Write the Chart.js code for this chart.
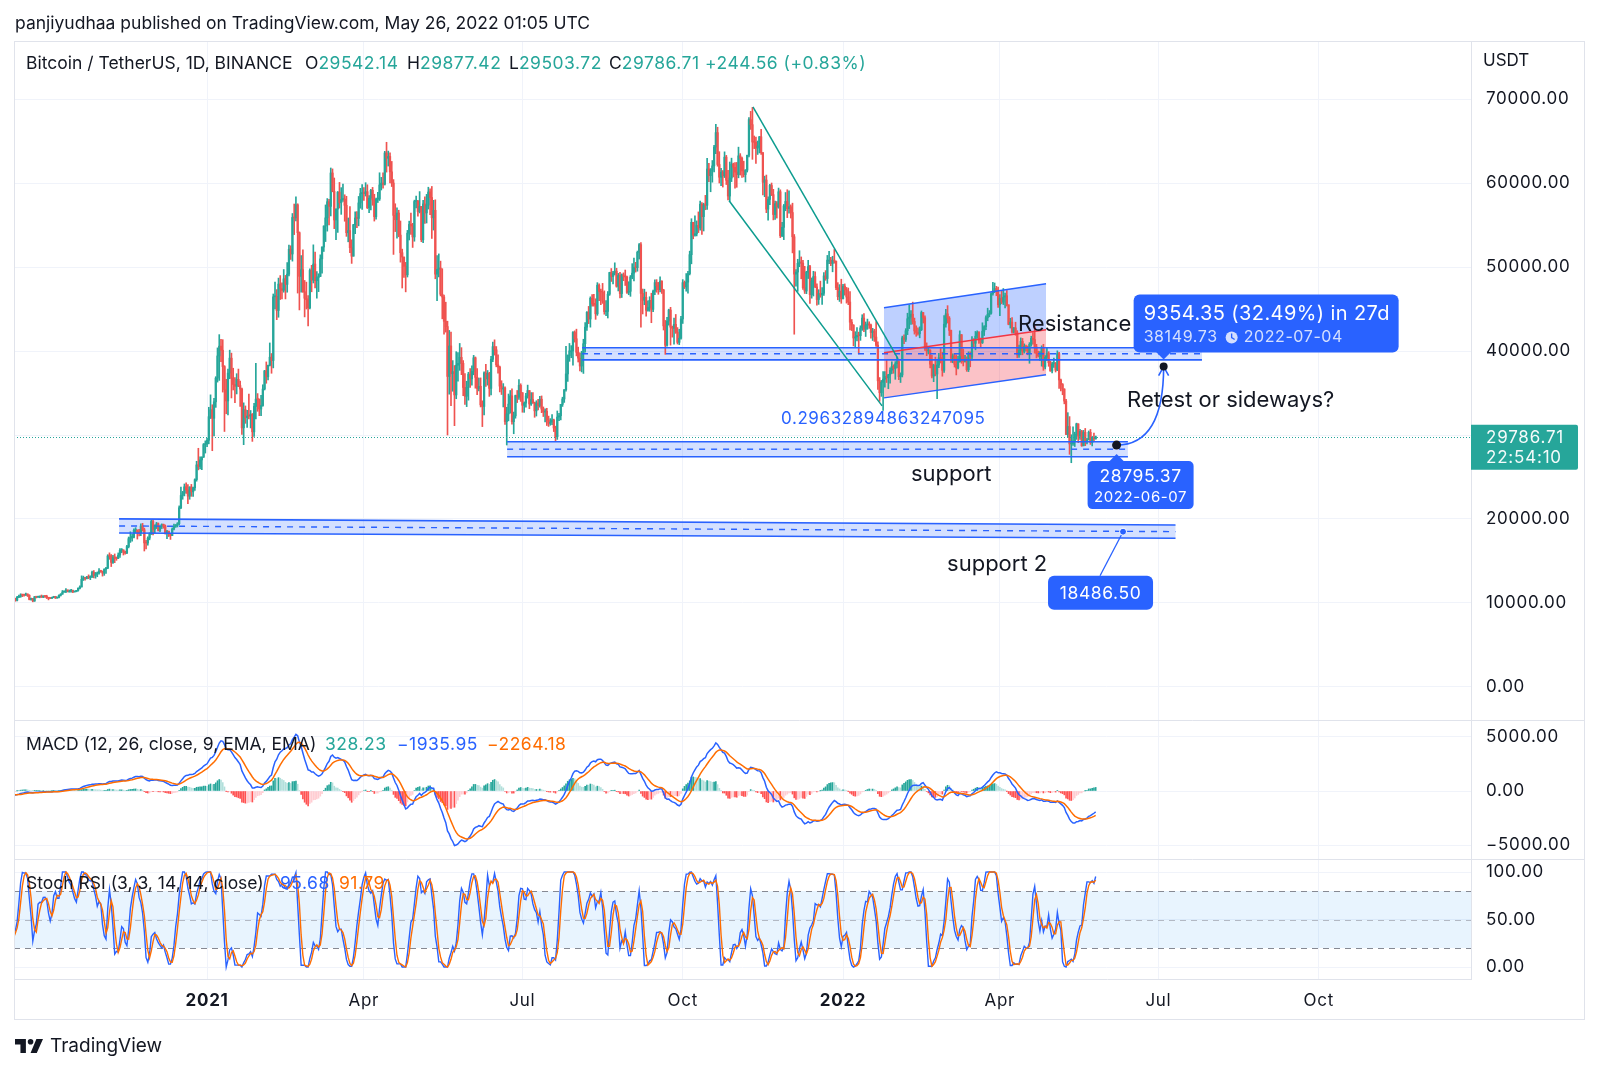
<!DOCTYPE html>
<html lang="en">
<head>
<meta charset="utf-8">
<title>BTCUSDT 1D</title>
<script src="https://cdn.jsdelivr.net/npm/chart.js@4.4.1/dist/chart.umd.min.js"></script>
<style>
  html, body { margin: 0; background: #fff; }
  body { position: relative; width: 1600px; height: 1071px; overflow: hidden;
         font-family: Inter, "Noto Sans", sans-serif; color: #131722; }
  canvas { position: absolute; left: 0; top: 0; }
  .t { position: absolute; white-space: nowrap; line-height: 20px; font-size: 17.5px; }
  .n { letter-spacing: 0.5px; }
  .up { color: #26a69a; }
  .blue { color: #2962ff; }
  .orange { color: #ff6d00; }
</style>
</head>
<body>
<canvas id="graficaBtc" width="1600" height="1071"></canvas>

<div class="t" style="left:15px;top:13px">panjiyudhaa published on TradingView.com, May 26, 2022 01:05 UTC</div>
<div class="t" style="left:26px;top:53px">Bitcoin / TetherUS, 1D, BINANCE</div>
<div class="t" style="left:305px;top:53px">O<span class="up n">29542.14</span></div>
<div class="t" style="left:407px;top:53px">H<span class="up n">29877.42</span></div>
<div class="t" style="left:509px;top:53px">L<span class="up n">29503.72</span></div>
<div class="t" style="left:609px;top:53px">C<span class="up n">29786.71</span></div>
<div class="t up n" style="left:705px;top:53px">+244.56 (+0.83%)</div>
<div class="t" style="left:1483px;top:50px;font-size:17px">USDT</div>

<div class="t" style="left:26px;top:734px">MACD (12, 26, close, 9, EMA, EMA)</div>
<div class="t up n" style="left:325px;top:734px">328.23</div>
<div class="t blue n" style="left:397px;top:734px">&minus;1935.95</div>
<div class="t orange n" style="left:487px;top:734px">&minus;2264.18</div>

<div class="t" style="left:26px;top:873px">Stoch RSI (3, 3, 14, 14, close)</div>
<div class="t blue n" style="left:280px;top:873px">95.68</div>
<div class="t orange n" style="left:339px;top:873px">91.79</div>

<svg style="position:absolute;left:15px;top:1039px" width="28" height="14" viewBox="0 0 36 18">
  <path d="M14 18H7V7H0V0h14v18zM28 18h-8L27.5 0H36L28 18z" fill="#131722"/>
  <circle cx="20" cy="3.6" r="3.6" fill="#131722"/>
</svg>
<div class="t" style="left:50px;top:1036px;font-size:19px">TradingView</div>

<script>
// daily candles, BINANCE BTCUSDT, prices in thousands of USDT
// first candle is 2020-08-10 (warm-up for the indicators, left of the visible range)
const firstDay = -144;          // day 0 = 2021-01-01
const firstOpen = 11.68;

const closes = [
  11.88,11.41,11.58,11.78,11.77,11.87,11.91,12.30,11.97,11.73,11.86,11.52,11.68,11.65,11.77,11.33,11.46,11.33,11.54,11.50,11.71,11.65,
  11.92,11.39,10.17,10.47,10.17,10.26,10.37,10.13,10.23,10.34,10.39,10.44,10.33,10.68,10.79,10.95,10.94,10.93,11.08,10.92,10.42,10.54,10.24,10.74,10.69,10.73,10.78,10.69,10.84,10.78,
  10.62,10.57,10.55,10.67,10.79,10.60,10.67,10.92,11.05,11.30,11.38,11.54,11.43,11.43,11.50,11.32,11.36,11.50,11.75,11.91,12.82,12.99,12.93,13.12,13.03,13.07,13.64,13.28,13.46,13.56,13.80,
  13.76,13.55,14.03,14.15,15.59,15.58,14.83,15.48,15.33,15.30,15.70,16.28,16.32,16.07,15.96,16.72,17.65,17.80,17.82,18.66,18.69,18.41,18.37,19.16,18.72,17.15,17.14,17.72,18.18,19.70,
  18.77,19.21,19.42,18.65,19.15,19.36,19.17,18.32,18.55,18.25,18.03,18.80,19.14,19.27,19.44,21.34,22.80,23.11,23.83,23.45,22.72,23.80,23.23,23.72,24.69,26.44,26.25,27.03,27.37,28.86,28.92,
  29.37,32.18,33.00,31.99,33.95,36.77,39.41,40.58,40.09,38.15,35.40,34.05,37.37,39.15,36.77,36.01,35.80,36.63,35.89,35.47,30.85,33.01,32.08,32.26,32.25,32.47,30.38,33.40,34.27,34.26,33.09,
  33.51,35.47,37.62,36.93,38.29,39.26,38.87,46.45,46.51,44.83,47.97,47.41,47.23,48.59,47.93,49.15,52.12,51.55,55.90,55.84,57.41,54.09,48.89,49.68,47.06,46.28,46.11,45.14,
  49.59,48.44,50.35,48.37,48.75,48.88,50.97,52.38,54.88,55.85,57.77,57.22,61.19,59.00,55.60,56.90,58.91,57.65,58.03,58.10,57.35,54.08,54.34,52.30,51.29,55.03,55.84,55.78,57.63,58.74,58.80,
  58.74,58.97,57.06,58.20,59.13,57.99,56.00,58.08,58.09,59.77,59.99,59.86,63.58,62.96,63.16,61.33,60.00,56.15,55.63,56.43,53.80,51.70,51.19,50.09,49.07,54.03,55.07,54.88,53.58,57.80,
  57.85,56.61,57.21,53.24,57.51,56.44,57.38,58.93,58.28,55.86,56.75,49.15,49.72,49.88,46.76,46.43,43.54,42.91,36.97,40.60,37.29,37.54,34.77,38.31,38.53,39.24,38.53,35.66,34.61,35.68,37.25,
  36.69,37.57,39.19,36.86,35.54,35.80,33.59,33.40,37.39,36.68,37.33,35.55,39.02,40.52,40.14,38.35,38.09,35.82,35.48,35.60,31.60,32.51,33.68,34.66,31.59,32.28,34.70,34.49,35.91,35.04,
  33.54,33.80,34.65,35.29,33.69,34.22,33.86,32.88,33.81,33.51,34.26,33.09,32.73,32.82,31.78,31.39,31.53,31.78,30.84,29.79,32.14,32.29,33.65,34.29,35.40,37.27,39.46,40.02,40.02,42.21,41.46,
  39.85,39.15,38.21,39.74,40.87,42.84,44.61,43.81,46.28,45.60,45.55,44.43,47.83,47.09,47.02,45.94,44.69,44.71,46.76,49.34,48.87,49.28,49.51,47.71,48.99,46.84,49.07,48.90,48.81,46.99,47.11,
  48.82,49.27,49.96,49.92,51.75,52.66,46.86,46.05,46.40,44.85,45.17,46.03,44.96,47.11,48.14,47.76,47.30,48.31,47.26,42.99,40.69,43.56,44.88,42.84,42.70,43.18,42.23,41.03,41.52,43.82,
  48.14,47.63,48.20,49.22,51.47,55.32,53.79,53.95,54.95,54.66,57.47,56.00,57.37,57.35,61.67,60.87,61.53,62.04,64.28,66.00,62.21,60.69,61.30,60.85,63.08,60.33,58.45,60.59,62.25,61.86,61.30,
  61.00,63.23,62.94,61.44,61.01,61.53,63.31,67.55,66.95,64.88,64.86,64.16,64.40,65.50,63.62,60.09,60.36,56.89,58.05,59.71,58.62,56.25,57.54,57.14,58.96,53.73,54.72,57.27,57.81,56.95,
  57.18,56.49,53.60,49.15,49.40,50.44,50.59,50.47,47.54,47.14,49.39,50.05,46.70,48.34,48.86,47.63,46.13,46.83,46.68,46.88,48.94,48.63,50.82,50.82,50.43,50.80,50.70,47.54,46.46,47.12,46.22,
  47.72,47.29,46.43,45.83,43.43,43.08,41.55,41.68,41.86,41.82,42.74,43.92,42.59,43.10,43.18,43.09,42.20,42.37,41.66,40.68,36.45,35.03,36.28,36.65,36.96,36.81,37.16,37.72,38.17,37.92,38.48,
  38.74,36.95,37.15,41.57,41.38,42.41,43.84,44.04,44.38,43.52,42.39,42.21,42.05,42.54,44.58,43.96,40.54,40.00,40.12,38.43,37.02,38.27,37.26,38.33,39.22,39.11,37.70,43.19,
  44.42,43.92,42.45,39.15,39.40,38.42,37.99,38.73,41.94,39.42,38.73,38.81,37.78,39.67,39.28,41.11,40.92,41.76,42.20,41.26,41.00,42.36,42.89,43.96,44.35,44.50,46.82,47.13,47.43,47.06,45.51,
  46.28,45.81,46.41,46.58,45.50,43.17,43.44,42.25,42.75,42.16,39.53,40.07,41.15,39.94,40.55,40.38,39.68,40.80,41.50,41.36,40.48,39.71,39.45,39.45,40.43,38.11,39.24,39.74,38.60,37.63,
  38.47,38.52,37.72,39.69,36.55,36.01,35.47,34.04,30.08,31.01,28.94,28.99,29.28,30.08,31.33,29.87,30.42,28.72,30.31,29.20,29.43,30.32,29.10,29.65,29.54,29.78671
];

const highs = [
  12.08,11.94,11.62,11.80,12.00,11.98,11.93,12.47,12.40,12.03,11.88,11.90,11.69,11.72,11.83,11.78,11.54,11.59,11.57,11.58,11.72,11.79,
  12.09,11.95,11.46,10.63,10.57,10.35,10.40,10.44,10.35,10.48,10.41,10.58,10.58,10.80,10.94,11.10,11.04,11.04,11.18,11.05,10.99,10.58,10.55,10.78,10.77,10.78,10.80,10.95,10.86,10.85,
  10.92,10.63,10.60,10.69,10.80,10.80,10.69,10.96,11.11,11.49,11.43,11.72,11.56,11.55,11.63,11.55,11.40,11.50,11.82,12.04,13.23,13.20,13.03,13.17,13.35,13.24,13.79,13.86,13.64,13.69,14.10,
  13.90,13.82,14.07,14.25,15.75,15.97,15.77,15.66,15.84,15.48,15.96,16.48,16.48,16.33,16.17,16.88,17.86,18.48,18.16,18.82,18.97,18.70,18.77,19.42,19.48,18.92,17.46,17.88,18.35,19.86,
  19.89,19.31,19.60,19.53,19.17,19.42,19.40,19.29,18.64,18.56,18.28,18.94,19.41,19.35,19.57,21.56,23.80,23.29,24.17,24.30,24.10,23.84,24.12,23.80,24.79,26.87,28.42,27.41,27.39,28.99,29.30,
  29.60,33.30,34.78,33.60,34.36,36.94,40.37,41.95,41.38,41.35,38.26,36.63,37.85,40.10,39.75,37.95,36.85,37.30,37.85,36.42,35.60,33.83,33.46,32.94,34.88,32.92,32.56,33.78,38.53,34.93,34.29,
  34.72,35.98,37.70,38.70,38.31,40.96,39.70,46.79,48.20,47.31,48.68,48.98,48.13,49.70,49.00,50.53,52.60,52.53,56.37,57.50,58.35,57.53,54.18,51.37,52.04,48.40,48.20,46.60,
  49.79,50.20,52.64,51.77,49.45,49.20,51.45,52.40,54.90,57.39,58.15,58.06,61.79,61.68,60.60,56.94,58.99,60.07,59.45,59.88,58.60,58.42,55.84,57.20,53.24,55.08,56.56,56.60,58.40,59.37,59.80,
  59.46,60.04,59.79,58.50,59.25,59.48,58.66,58.20,58.89,61.22,60.67,61.20,63.77,64.85,63.80,63.59,62.57,60.41,57.53,57.06,56.76,55.48,52.13,51.17,50.55,54.36,55.46,56.43,55.20,57.96,
  58.45,57.94,58.98,57.20,57.95,58.36,58.65,59.50,59.30,59.59,57.94,58.00,51.37,51.56,50.70,49.80,46.65,45.81,43.55,42.45,42.24,38.86,38.27,39.92,39.80,40.90,40.40,38.86,37.30,36.40,37.47,
  37.90,38.23,39.48,39.29,37.92,36.79,36.80,34.07,37.53,38.40,37.68,37.46,39.38,41.06,41.33,40.53,39.56,38.20,36.46,36.12,35.75,33.30,34.88,35.30,35.50,32.73,34.75,35.30,36.60,36.10,
  35.04,33.94,34.95,35.94,35.29,35.06,35.06,33.92,34.08,34.26,34.59,34.65,33.34,33.11,33.18,32.25,31.95,32.44,31.89,31.05,32.86,32.58,33.65,34.50,35.40,40.55,39.54,40.90,40.64,42.32,42.40,
  42.60,40.46,39.78,39.97,41.40,43.39,44.70,45.31,46.45,46.72,46.74,46.22,48.14,48.00,47.38,48.05,47.16,46.00,47.08,49.38,49.82,49.50,50.50,49.85,49.24,49.36,49.18,49.30,49.64,48.91,48.25,
  48.99,50.40,51.05,50.56,51.90,52.80,52.92,47.38,47.36,47.03,45.97,46.46,46.88,47.26,48.48,48.50,48.17,48.84,48.37,47.35,43.64,44.00,44.98,45.20,42.97,43.93,44.35,42.79,42.59,44.13,
  48.50,48.34,49.22,49.50,51.89,55.75,55.33,56.10,55.49,56.56,57.84,57.68,57.60,58.53,62.93,62.33,61.72,62.68,64.48,67.00,66.64,63.73,61.75,61.49,63.71,63.29,61.50,62.50,62.96,62.37,62.43,
  62.45,64.27,63.50,63.09,62.60,61.60,63.31,67.79,68.53,69.00,65.60,65.46,65.00,65.55,66.40,63.62,60.82,60.95,58.35,59.85,60.00,59.25,57.84,57.80,59.40,59.19,55.32,57.45,58.87,59.20,
  59.07,57.40,57.60,53.87,49.70,50.92,51.94,51.20,50.80,50.08,49.49,50.80,50.20,48.70,49.49,49.42,48.00,47.30,48.32,47.54,49.33,49.57,51.38,51.87,51.16,51.28,52.09,50.70,48.14,47.90,48.55,
  47.95,47.99,47.57,47.50,47.07,43.75,43.14,42.30,42.79,42.25,43.00,44.32,44.47,43.46,43.80,43.48,43.20,42.70,42.59,43.50,41.10,36.84,36.50,37.55,37.55,38.92,37.23,38.00,38.72,38.36,38.74,
  39.27,38.85,37.40,41.77,41.94,42.66,44.50,45.49,44.80,45.82,43.92,43.00,42.76,42.88,44.77,44.58,44.20,40.97,40.48,40.15,39.49,38.43,39.27,38.85,39.73,40.30,39.85,44.23,
  44.95,45.40,44.10,42.50,39.67,39.70,39.55,39.36,42.40,41.97,40.24,39.49,39.31,39.90,39.89,41.72,41.48,42.33,42.40,42.30,41.55,43.36,43.02,44.20,45.10,44.82,46.94,48.19,48.10,47.70,47.60,
  46.72,47.21,47.44,46.89,47.20,45.50,43.90,43.97,42.80,43.43,42.42,40.70,41.56,41.50,40.85,40.70,40.60,41.00,41.76,42.20,42.98,40.80,39.98,39.92,40.62,40.80,39.47,40.37,39.92,38.79,
  38.68,39.17,38.64,40.02,39.85,36.66,36.13,35.51,34.24,32.66,32.19,30.03,30.98,30.34,31.41,31.30,30.69,30.56,30.55,30.78,29.60,30.48,30.66,29.83,30.22,29.87742
];

const lows = [
  11.53,11.13,11.16,11.29,11.68,11.69,11.68,11.77,11.82,11.57,11.67,11.51,11.37,11.53,11.60,11.12,11.27,11.15,11.31,11.42,11.46,11.58,
  11.62,11.16,10.00,9.88,9.82,10.02,9.88,9.85,10.02,10.20,10.21,10.36,10.21,10.26,10.63,10.67,10.75,10.82,10.89,10.77,10.37,10.35,10.14,10.19,10.60,10.66,10.62,10.66,10.64,10.67,
  10.53,10.37,10.52,10.53,10.63,10.53,10.56,10.61,10.83,11.04,11.28,11.23,11.31,11.30,11.28,11.22,11.30,11.33,11.42,11.69,11.90,12.68,12.73,12.88,12.89,12.78,13.05,12.99,12.95,13.13,13.42,
  13.65,13.20,13.29,13.52,14.09,15.20,14.34,14.72,14.80,15.08,15.28,15.42,15.98,15.71,15.80,15.87,16.56,17.21,17.35,17.74,18.35,17.61,18.00,18.02,18.56,16.19,16.44,16.88,17.52,18.17,
  18.10,18.33,18.86,18.57,18.50,18.86,18.90,18.20,17.65,17.91,17.57,18.02,18.71,19.00,19.05,19.29,21.23,22.35,22.75,23.06,21.82,22.35,22.70,22.70,23.40,24.50,25.85,25.96,25.88,27.32,27.85,
  28.62,28.95,31.96,28.13,29.90,33.29,36.30,36.50,38.72,35.11,30.42,32.53,32.38,36.70,34.41,35.36,33.85,34.89,35.75,33.40,30.07,28.85,31.39,30.90,31.91,30.84,29.24,29.84,31.92,32.82,32.30,
  32.30,33.42,35.36,36.16,36.57,38.22,37.35,37.99,45.00,43.73,44.02,46.13,46.20,47.00,46.20,47.00,48.95,50.90,50.70,53.86,55.48,46.90,44.89,47.00,46.99,44.06,45.00,43.00,
  45.00,47.05,48.10,47.50,46.30,47.07,48.86,49.27,51.85,53.03,54.27,55.02,56.08,58.95,54.57,53.27,54.12,57.02,56.27,57.82,55.45,53.65,53.00,51.70,50.43,51.32,53.96,54.69,54.90,57.00,56.87,
  57.93,58.45,56.96,56.48,56.79,57.35,55.47,55.70,57.68,57.92,59.17,59.38,59.76,61.30,62.02,60.00,59.58,51.50,54.22,53.42,53.60,50.58,47.50,48.75,47.04,48.81,53.22,53.88,52.33,53.07,
  57.05,56.04,56.44,53.01,52.90,55.20,55.24,56.90,56.23,53.40,54.40,48.60,46.00,48.82,46.56,43.83,42.00,42.25,30.00,34.86,33.49,35.21,31.11,34.32,36.42,37.70,37.18,34.68,33.63,33.38,34.15,
  35.67,35.92,37.17,35.57,34.80,35.26,33.34,31.00,32.40,35.78,35.94,34.60,34.76,38.73,39.51,38.12,37.37,35.13,34.82,33.34,31.25,28.81,31.68,32.60,31.28,30.15,32.00,33.86,34.23,34.00,
  32.71,32.70,33.31,34.39,33.13,33.53,33.77,32.11,32.26,33.00,33.31,32.66,32.20,31.55,31.13,31.02,31.16,31.22,30.41,29.28,29.48,31.71,31.80,33.40,33.88,35.21,36.38,38.77,39.20,38.31,41.06,
  39.42,38.69,37.64,37.51,37.33,39.85,42.45,43.26,42.84,45.35,45.35,43.77,44.25,45.98,45.52,45.67,44.38,44.20,43.93,46.62,48.28,48.00,49.05,47.60,47.15,46.33,46.37,48.37,47.80,46.86,46.70,
  46.51,48.60,48.35,49.40,49.50,50.95,42.84,44.41,45.51,44.14,44.74,44.73,43.37,44.68,46.72,47.00,46.75,47.04,46.85,42.50,39.60,40.57,43.08,40.70,41.65,40.80,42.10,40.83,40.76,41.40,
  43.28,47.43,47.12,46.89,49.06,50.38,53.36,53.66,53.70,54.10,54.40,53.88,54.29,56.82,56.85,60.15,58.96,60.10,61.32,63.48,62.00,60.00,59.67,59.52,60.65,59.82,58.00,57.82,60.17,60.72,59.40,
  59.49,60.62,60.95,60.68,60.72,60.12,61.31,63.10,66.38,62.82,64.10,62.33,63.40,63.58,63.40,58.57,58.37,56.47,55.58,57.41,58.50,55.61,55.67,55.83,57.00,53.50,53.61,53.26,56.70,55.88,
  56.42,55.83,51.68,42.00,47.73,47.10,50.04,48.60,47.32,46.85,46.82,48.63,45.67,46.29,46.55,47.53,45.46,45.55,46.40,45.56,46.63,48.42,48.05,50.41,50.17,49.43,50.45,47.31,46.10,45.90,45.68,
  46.21,46.65,45.70,45.52,42.50,42.43,40.61,40.50,41.20,39.65,41.27,42.46,42.31,41.73,42.58,42.69,41.54,41.25,41.14,40.55,35.44,34.01,34.60,32.93,35.70,36.25,35.51,36.16,37.31,37.35,36.63,
  38.00,36.59,36.25,36.91,40.87,41.13,41.95,42.67,43.17,43.20,42.01,41.75,41.88,41.57,42.43,43.33,40.07,39.45,39.64,38.00,36.81,36.35,37.04,34.32,38.01,38.57,37.00,37.45,
  42.85,43.33,41.84,38.65,38.60,38.09,37.15,37.86,38.66,38.54,38.22,38.66,37.58,37.55,38.12,38.90,40.50,40.14,41.50,40.91,40.50,40.89,41.84,42.55,43.60,44.07,44.40,46.66,46.95,46.58,45.20,
  44.21,45.62,45.53,45.12,45.35,43.12,42.73,42.11,42.13,41.87,39.20,39.25,39.55,39.55,39.76,40.00,39.55,38.54,40.57,40.82,39.75,39.18,39.29,38.88,38.20,37.70,37.87,38.88,38.18,37.58,
  37.39,38.05,37.50,37.66,35.56,35.26,34.79,33.71,30.03,29.73,27.70,26.70,28.75,28.63,29.48,29.09,29.46,28.65,28.70,28.73,28.95,29.42,28.88,28.70,29.31,29.50372
];

const priceTicks = [0, 10000, 20000, 30000, 40000, 50000, 60000, 70000];
const macdTicks = [-5000, 0, 5000];
const stochTicks = [0, 50, 100];
const monthTicks = [0, 90, 181, 273, 365, 455, 546, 638];
const monthLabels = ['2021', 'Apr', 'Jul', 'Oct', '2022', 'Apr', 'Jul', 'Oct'];
const yearTicks = [0, 365];
const lastPrice = 29786.71;

const UP = '#26a69a';
const DOWN = '#ef5350';
const FONT = 'Inter, "Noto Sans", sans-serif';

// candles
const n = Math.min(closes.length, highs.length, lows.length);
const days = [], wicks = [], bodies = [], candleColors = [], closeVals = [];
for (let i = 0; i < n; i++) {
  const o = (i ? closes[i - 1] : firstOpen) * 1000;
  const c = closes[i] * 1000;
  const h = Math.max(highs[i] * 1000, o, c);
  const l = Math.min(lows[i] * 1000, o, c);
  const x = firstDay + i;
  days.push(x);
  closeVals.push(c);
  wicks.push({ x, y: [l, h] });
  bodies.push({ x, y: [o, c] });
  candleColors.push(c >= o ? UP : DOWN);
}

// indicators, computed from the closes
function ema(src, len) {
  const a = 2 / (len + 1);
  let prev = null;
  return src.map(v => (prev = prev === null ? v : a * v + (1 - a) * prev));
}
const ema12 = ema(closeVals, 12);
const ema26 = ema(closeVals, 26);
const macd = ema12.map((v, i) => v - ema26[i]);
const signal = ema(macd, 9);
const hist = macd.map((v, i) => v - signal[i]);
const histColors = hist.map((v, i) => {
  const prev = i ? hist[i - 1] : v;
  if (v >= 0) return v >= prev ? '#26a69a' : '#b2dfdb';
  return v >= prev ? '#ffcdd2' : '#ff5252';
});

function rsi(src, len) {
  const out = src.map(() => null);
  let up = 0, dn = 0;
  for (let i = 1; i < src.length; i++) {
    const ch = src[i] - src[i - 1];
    const u = Math.max(ch, 0), d = Math.max(-ch, 0);
    if (i <= len) { up += u / len; dn += d / len; }
    else { up = (up * (len - 1) + u) / len; dn = (dn * (len - 1) + d) / len; }
    if (i >= len) out[i] = dn === 0 ? 100 : 100 - 100 / (1 + up / dn);
  }
  return out;
}
function sma(src, len) {
  return src.map((v, i) => {
    if (i < len - 1) return null;
    const win = src.slice(i - len + 1, i + 1);
    if (win.some(w => w === null)) return null;
    return win.reduce((s, w) => s + w, 0) / len;
  });
}
const rsi14 = rsi(closeVals, 14);
const stochRaw = rsi14.map((v, i) => {
  if (i < 13) return null;
  const win = rsi14.slice(i - 13, i + 1);
  if (win.some(w => w === null)) return null;
  const lo = Math.min(...win), hi = Math.max(...win);
  return hi === lo ? 0 : (v - lo) / (hi - lo) * 100;
});
const stochK = sma(stochRaw, 3);
const stochD = sma(stochK, 3);

const pts = arr => days.map((x, i) => ({ x, y: arr[i] }));

// drawings on top of the chart (trend lines, zones, labels)
function quad(ctx, x1, x2, a1, a2, b1, b2) {
  ctx.beginPath();
  ctx.moveTo(x1, a1); ctx.lineTo(x2, a2); ctx.lineTo(x2, b2); ctx.lineTo(x1, b1);
  ctx.closePath();
}
function seg(ctx, x1, y1, x2, y2) {
  ctx.beginPath(); ctx.moveTo(x1, y1); ctx.lineTo(x2, y2); ctx.stroke();
}
function roundBox(ctx, x, y, w, h, r) {
  ctx.beginPath();
  ctx.roundRect(x, y, w, h, r);
  ctx.fill();
}
function spacing(ctx, px) {
  if ('letterSpacing' in ctx) ctx.letterSpacing = px + 'px';
}

const zones = [
  { x1: 215.2, x2: 571, t1: 40380, t2: 40380, b1: 38950, b2: 38950 },   // resistance
  { x1: 172.2, x2: 528.5, t1: 29200, t2: 29200, b1: 27420, b2: 27420 }, // support
  { x1: -50.5, x2: 555.8, t1: 20010, t2: 19290, b1: 18340, b2: 17700 }  // support 2
];
const channel = { x1: 388.5, x2: 481.5, t1: 45140, t2: 48000, m1: 39780, m2: 42520, b1: 34420, b2: 37160 };

const drawings = {
  id: 'drawings',
  beforeDraw(chart) {
    spacing(chart.ctx, 0.7);   // wider figures for the axis labels
  },
  beforeDatasetsDraw(chart) {
    const { ctx, chartArea: a, scales } = chart;
    const X = v => scales.x.getPixelForValue(v);
    const Y = v => scales.y.getPixelForValue(v);
    const S = v => scales.yS.getPixelForValue(v);
    ctx.save();
    ctx.fillStyle = 'rgba(33,150,243,0.1)';
    ctx.fillRect(a.left, S(80), a.right - a.left, S(20) - S(80));
    ctx.lineWidth = 1;
    ctx.setLineDash([6, 5]);
    [[80, '#868993'], [50, 'rgba(134,137,147,0.55)'], [20, '#868993']].forEach(([v, col]) => {
      ctx.strokeStyle = col;
      const yy = Math.round(S(v)) + 0.5;
      seg(ctx, a.left, yy, a.right, yy);
    });
    ctx.setLineDash([]);

    ctx.beginPath();
    ctx.rect(a.left, a.top, a.right - a.left, scales.y.bottom - a.top);
    ctx.clip();
    ctx.fillStyle = 'rgba(41,98,255,0.2)';
    zones.forEach(z => { quad(ctx, X(z.x1), X(z.x2), Y(z.t1), Y(z.t2), Y(z.b1), Y(z.b2)); ctx.fill(); });
    const c = channel;
    ctx.fillStyle = 'rgba(41,98,255,0.3)';
    quad(ctx, X(c.x1), X(c.x2), Y(c.t1), Y(c.t2), Y(c.m1), Y(c.m2)); ctx.fill();
    ctx.fillStyle = 'rgba(242,54,69,0.3)';
    quad(ctx, X(c.x1), X(c.x2), Y(c.m1), Y(c.m2), Y(c.b1), Y(c.b2)); ctx.fill();
    ctx.restore();
  },
  afterDatasetsDraw(chart) {
    const { ctx, chartArea: a, scales } = chart;
    const X = v => scales.x.getPixelForValue(v);
    const Y = v => scales.y.getPixelForValue(v);
    ctx.save();
    ctx.beginPath();
    ctx.rect(a.left, a.top, a.right - a.left, scales.y.bottom - a.top);
    ctx.clip();

    // zone borders and dashed middles
    ctx.strokeStyle = '#2962ff';
    zones.forEach(z => {
      ctx.lineWidth = 1.6;
      ctx.setLineDash([]);
      seg(ctx, X(z.x1), Y(z.t1), X(z.x2), Y(z.t2));
      seg(ctx, X(z.x1), Y(z.b1), X(z.x2), Y(z.b2));
      ctx.setLineDash([6, 6]);
      ctx.lineWidth = 1.4;
      seg(ctx, X(z.x1), Y((z.t1 + z.b1) / 2), X(z.x2), Y((z.t2 + z.b2) / 2));
    });
    ctx.setLineDash([]);

    // parallel channel
    const c = channel;
    ctx.lineWidth = 1.5;
    ctx.strokeStyle = '#2962ff';
    seg(ctx, X(c.x1), Y(c.t1), X(c.x2), Y(c.t2));
    seg(ctx, X(c.x1), Y(c.b1), X(c.x2), Y(c.b2));
    ctx.strokeStyle = '#f23645';
    seg(ctx, X(c.x1), Y(c.m1), X(c.x2), Y(c.m2));

    // falling trend lines
    ctx.strokeStyle = '#0c9c8f';
    ctx.lineWidth = 1.5;
    seg(ctx, X(313.3), Y(69080), X(396.6), Y(39066));
    seg(ctx, X(299.6), Y(57885), X(387.4), Y(33468));

    // last price line
    ctx.strokeStyle = UP;
    ctx.lineWidth = 1;
    ctx.setLineDash([1, 2]);
    const yp = Math.round(Y(lastPrice)) + 0.5;
    seg(ctx, a.left, yp, a.right, yp);
    ctx.setLineDash([]);

    // texts
    ctx.textBaseline = 'middle';
    ctx.textAlign = 'left';
    ctx.fillStyle = '#2962ff';
    ctx.font = '17px ' + FONT;
    spacing(ctx, 0.6);
    ctx.fillText('0.29632894863247095', X(329.4), Y(31920));
    ctx.fillStyle = '#131722';
    ctx.font = '22px ' + FONT;
    spacing(ctx, 0);
    ctx.fillText('Resistance', X(465.4), Y(43115));
    ctx.fillText('Retest or sideways?', X(528), Y(34064));
    ctx.fillText('support', X(404), Y(25370));
    ctx.fillText('support 2', X(424.7), Y(14650));

    // projection 2022-06-07 -> 2022-07-04
    const sx = X(522), sy = Y(28795.37), ex = X(549), ey = Y(38149.73);
    ctx.strokeStyle = '#2962ff';
    ctx.lineWidth = 1.6;
    ctx.beginPath();
    ctx.moveTo(sx, sy);
    ctx.quadraticCurveTo(X(549), Y(28795.37), ex, ey);
    ctx.stroke();
    ctx.beginPath();
    ctx.moveTo(ex - 5, ey + 9); ctx.lineTo(ex, ey); ctx.lineTo(ex + 5, ey + 9);
    ctx.stroke();
    ctx.fillStyle = '#131722';
    ctx.beginPath(); ctx.arc(sx, sy, 4.5, 0, Math.PI * 2); ctx.fill();
    ctx.beginPath(); ctx.arc(ex, ey, 4, 0, Math.PI * 2); ctx.fill();

    // start label
    ctx.fillStyle = '#2962ff';
    ctx.beginPath();
    ctx.moveTo(sx - 8, sy + 17); ctx.lineTo(sx, sy + 9); ctx.lineTo(sx + 8, sy + 17);
    ctx.fill();
    roundBox(ctx, sx - 29, sy + 16, 106, 48, 5);
    ctx.fillStyle = '#ffffff';
    ctx.textAlign = 'center';
    spacing(ctx, 0.6);
    ctx.font = '17.5px ' + FONT;
    ctx.fillText('28795.37', sx + 24, sy + 32);
    ctx.font = '15px ' + FONT;
    ctx.fillText('2022-06-07', sx + 24, sy + 52);

    // target label
    const bx = ex - 30, by = ey - 72;
    ctx.fillStyle = '#2962ff';
    roundBox(ctx, bx, by, 265, 58, 6);
    ctx.beginPath();
    ctx.moveTo(ex - 8, by + 57); ctx.lineTo(ex, by + 65); ctx.lineTo(ex + 8, by + 57);
    ctx.fill();
    ctx.textAlign = 'left';
    ctx.fillStyle = '#ffffff';
    ctx.font = '20px ' + FONT;
    spacing(ctx, 0.4);
    ctx.fillText('9354.35 (32.49%) in 27d', bx + 10, by + 19);
    ctx.fillStyle = 'rgba(255,255,255,0.8)';
    ctx.font = '16px ' + FONT;
    spacing(ctx, 0.6);
    ctx.fillText('38149.73', bx + 10, by + 43);
    ctx.fillText('2022-07-04', bx + 110, by + 43);
    ctx.beginPath(); ctx.arc(bx + 98, by + 43, 6, 0, Math.PI * 2); ctx.fill();
    ctx.strokeStyle = '#2962ff';
    ctx.lineWidth = 1.3;
    ctx.beginPath(); ctx.moveTo(bx + 98, by + 39); ctx.lineTo(bx + 98, by + 43); ctx.lineTo(bx + 101, by + 45); ctx.stroke();

    // support 2 price label
    const dx = X(525.7), dy = Y(18486.5);
    ctx.strokeStyle = '#2962ff';
    ctx.lineWidth = 1.3;
    seg(ctx, dx, dy, dx - 23, dy + 44);
    ctx.fillStyle = '#2962ff';
    ctx.beginPath(); ctx.arc(dx, dy, 3.5, 0, Math.PI * 2); ctx.fill();
    ctx.strokeStyle = '#ffffff';
    ctx.lineWidth = 1;
    ctx.stroke();
    roundBox(ctx, dx - 75, dy + 44, 105, 34, 6);
    ctx.fillStyle = '#ffffff';
    ctx.textAlign = 'center';
    ctx.font = '17.5px ' + FONT;
    ctx.fillText('18486.50', dx - 22.5, dy + 62);
    ctx.restore();
  },
  afterDraw(chart) {
    const { ctx, chartArea: a, scales } = chart;
    ctx.save();
    ctx.strokeStyle = '#e0e3eb';
    ctx.lineWidth = 1;
    [scales.y.bottom, scales.yM.bottom].forEach(b => {
      const yy = Math.round(b) + 0.5;
      seg(ctx, a.left, yy, scales.y.right, yy);
    });
    ctx.strokeRect(a.left + 0.5, a.top + 0.5, scales.y.right - a.left - 1, scales.x.bottom - a.top);

    // last price tag on the price axis
    const yp = scales.y.getPixelForValue(lastPrice);
    ctx.fillStyle = UP;
    ctx.beginPath();
    ctx.roundRect(a.right, yp - 12, 107, 45, [0, 2, 2, 0]);
    ctx.fill();
    ctx.fillStyle = 'rgba(255,255,255,0.95)';
    ctx.font = '17px ' + FONT;
    spacing(ctx, 0.8);
    ctx.textBaseline = 'middle';
    ctx.textAlign = 'left';
    ctx.fillText('29786.71', a.right + 15, yp + 1);
    ctx.fillText('22:54:10', a.right + 15, yp + 21);
    ctx.restore();
  }
};

function fmt(v) {
  return (v < 0 ? '\u2212' : '') + Math.abs(v).toFixed(2);
}
function paneAxis(min, max, weight, ticks) {
  return {
    type: 'linear', position: 'right', stack: 'panes', stackWeight: weight,
    min, max,
    grid: { color: '#f0f3fa', drawTicks: false },
    border: { display: true, color: '#e0e3eb' },
    ticks: { color: '#131722', font: { family: FONT, size: 17 }, padding: 15, callback: v => fmt(v) },
    afterBuildTicks: s => { s.ticks = ticks.map(v => ({ value: v })); },
    afterFit: s => { s.width = 114; }
  };
}

const ctx = document.getElementById('graficaBtc').getContext('2d');

const grafica = new Chart(ctx, {
  type: 'bar',
  data: {
    datasets: [
      { type: 'bar', data: wicks, yAxisID: 'y', backgroundColor: candleColors, barThickness: 1, grouped: false, order: 6 },
      { type: 'bar', data: bodies, yAxisID: 'y', backgroundColor: candleColors, barThickness: 1.6, minBarLength: 1, grouped: false, order: 5 },
      { type: 'bar', data: pts(hist), yAxisID: 'yM', backgroundColor: histColors, barThickness: 1, grouped: false, order: 6 },
      { type: 'line', data: pts(macd), yAxisID: 'yM', borderColor: '#2962ff', borderWidth: 1.5, pointRadius: 0, tension: 0, order: 3 },
      { type: 'line', data: pts(signal), yAxisID: 'yM', borderColor: '#ff6d00', borderWidth: 1.5, pointRadius: 0, tension: 0, order: 2 },
      { type: 'line', data: pts(stochK), yAxisID: 'yS', borderColor: '#2962ff', borderWidth: 1.4, pointRadius: 0, tension: 0, order: 3 },
      { type: 'line', data: pts(stochD), yAxisID: 'yS', borderColor: '#ff6d00', borderWidth: 1.4, pointRadius: 0, tension: 0, order: 2 }
    ]
  },
  options: {
    responsive: false,
    animation: false,
    devicePixelRatio: 1,
    events: [],
    layout: { padding: { left: 14, top: 41, right: 15, bottom: 52 } },
    plugins: { legend: { display: false }, tooltip: { enabled: false } },
    scales: {
      x: {
        type: 'linear', min: -110.8, max: 725.4, offset: false,
        grid: { color: '#f0f3fa', drawTicks: false, offset: false },
        border: { display: true, color: '#e0e3eb' },
        ticks: {
          autoSkip: false, maxRotation: 0, padding: 12, color: '#131722',
          font: c => ({ family: FONT, size: 17, weight: c.tick && yearTicks.includes(c.tick.value) ? '700' : '400' }),
          callback: (v, i) => monthLabels[i]
        },
        afterBuildTicks: s => { s.ticks = monthTicks.map(v => ({ value: v })); },
        afterFit: s => { s.height = 40; }
      },
      y: paneAxis(-3930, 76908, 679, priceTicks),
      yM: paneAxis(-6296, 6574, 139, macdTicks),
      yS: paneAxis(-12.6, 113.7, 120, stochTicks)
    }
  },
  plugins: [drawings]
});
</script>
</body>
</html>
